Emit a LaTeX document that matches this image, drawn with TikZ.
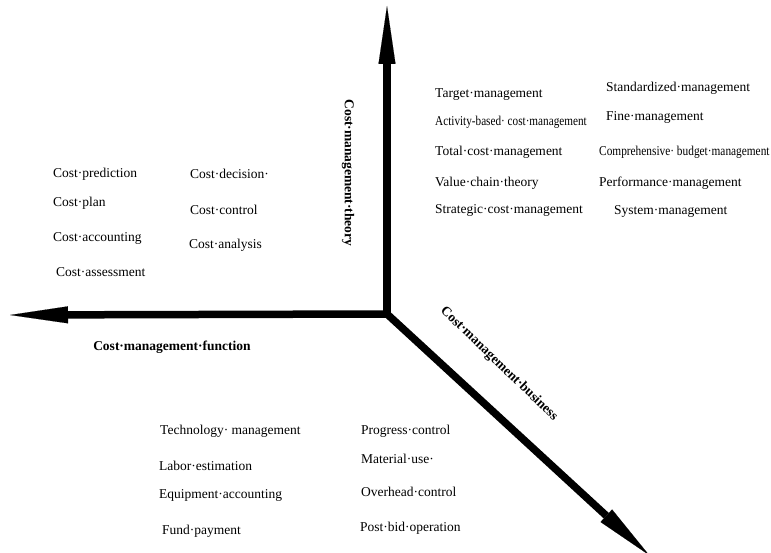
\documentclass[tikz,border=0pt]{standalone}
\usepackage{fontspec}
\setmainfont{Liberation Serif}
\usetikzlibrary{arrows.meta}
\begin{document}
\begin{tikzpicture}[x=1pt,y=-1pt,
  axis/.style={line width=7.5pt,black},
  head/.style={-{Triangle[length=58pt,width=17pt,line width=0.1pt]}},
  item/.style={anchor=west,inner sep=0pt,font=\fontsize{13.5}{16}\selectfont},
  axlabel/.style={inner sep=0pt,font=\fontsize{13.5}{16}\selectfont\bfseries}]
\useasboundingbox (0,0) rectangle (771,553);
\coordinate (O) at (387,314);
\coordinate (T) at (387,6);
\coordinate (L) at (10,315);
\coordinate (B) at (649,555);
\draw[axis,head] (O) -- (T);
\draw[axis,head] (O) -- (L);
\draw[axis,head] (O) -- (B);
% axis labels
\node[axlabel,rotate=-90] (ltheory) at (348,173) {Cost·management·theory};
\node[axlabel] (lfunction) at (172,347) {Cost·management·function};
\node[axlabel,rotate=-44] (lbusiness) at (499,364) {Cost·management·business};
% function items
\node[item] (f1) at (53,174) {Cost·prediction};
\node[item] (f2) at (53,203) {Cost·plan};
\node[item] (f3) at (53,238) {Cost·accounting};
\node[item] (f4) at (56,272) {Cost·assessment};
\node[item] (f5) at (190,174) {Cost·decision·};
\node[item] (f6) at (190,210) {Cost·control};
\node[item] (f7) at (189,245) {Cost·analysis};
% theory items
\node[item] (t1) at (435,95) {Target·management};
\node[item] (t2) at (435,122) {\scalebox{0.83}[1]{Activity-based· cost·management}};
\node[item] (t3) at (435,152) {Total·cost·management};
\node[item] (t4) at (435,183) {Value·chain·theory};
\node[item] (t5) at (435,210) {Strategic·cost·management};
\node[item] (t6) at (606,88) {Standardized·management};
\node[item] (t7) at (606,117) {Fine·management};
\node[item] (t8) at (599,152) {\scalebox{0.84}[1]{Comprehensive· budget·management}};
\node[item] (t9) at (599,183) {Performance·management};
\node[item] (t10) at (614,211) {System·management};
% business items
\node[item] (b1) at (160,431) {Technology· management};
\node[item] (b2) at (159,466) {Labor·estimation};
\node[item] (b3) at (159,495) {Equipment·accounting};
\node[item] (b4) at (162,531) {Fund·payment};
\node[item] (b5) at (361,431) {Progress·control};
\node[item] (b6) at (361,459) {Material·use·};
\node[item] (b7) at (361,492) {Overhead·control};
\node[item] (b8) at (360,528) {Post·bid·operation};
\end{tikzpicture}
\end{document}
